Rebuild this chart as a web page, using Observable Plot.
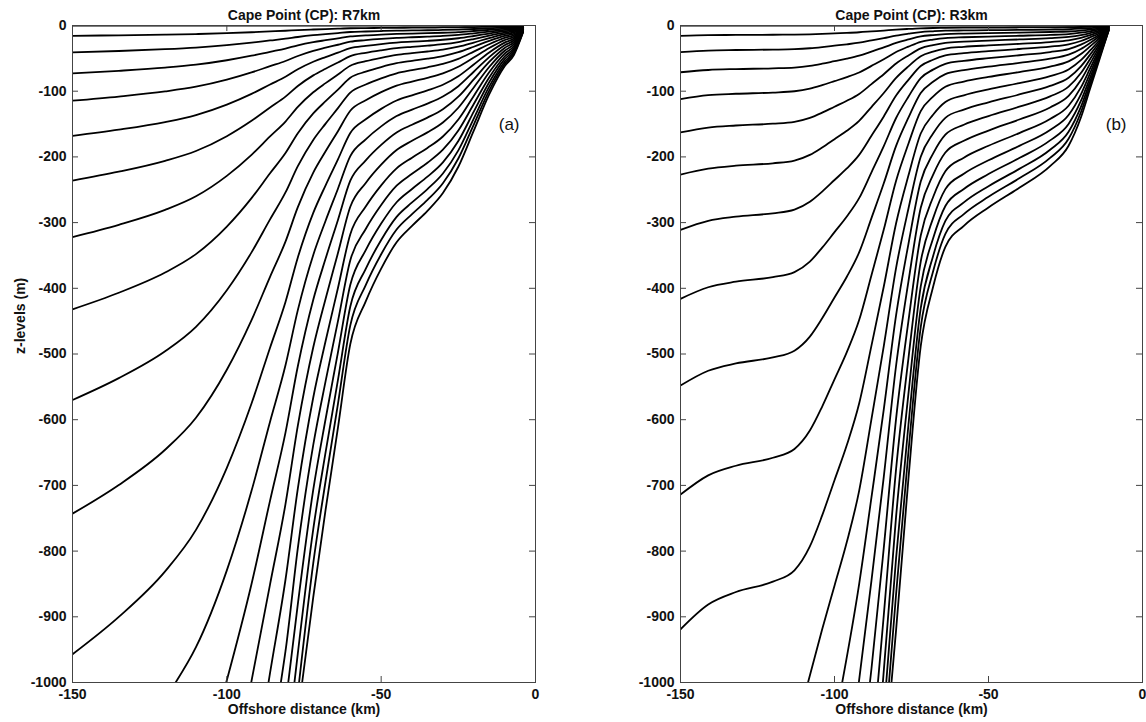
<!DOCTYPE html>
<html>
<head>
<meta charset="utf-8">
<script src="https://cdn.jsdelivr.net/npm/d3@7"></script>
<script src="https://cdn.jsdelivr.net/npm/@observablehq/plot@0.6"></script>
<style>
  html, body { margin: 0; padding: 0; background: #fff; }
  #wrap { position: relative; width: 1146px; height: 722px; overflow: hidden; }
  #pa, #pb { position: absolute; top: 0; }
  #pa { left: 0; }
  #pb { left: 600px; }
</style>
</head>
<body>
<div id="wrap"><div id="pa"></div><div id="pb"></div></div>
<script>
// ---------- data ----------
const titles = ["Cape Point (CP): R7km", "Cape Point (CP): R3km"];
const panelTags = ["(a)", "(b)"];
const xTicks = [-150, -100, -50, 0];
const yTicks = [-1000, -900, -800, -700, -600, -500, -400, -300, -200, -100, 0];

// Panel (a): offshore distance columns (km) and depth (m, positive down) of each level line
const xA = [-150, -135, -120, -110, -100, -92, -86, -81, -77, -72, -68, -64, -60, -55, -50, -45, -40, -35, -30, -25, -20, -15, -10, -7, -4];
const depthA = [
  [0,0,0,0,0,0,0,0,0,0,0,0,0,0,0,0,0,0,0,0,0,0,0,0,0],
  [15.7,14.9,13.9,13.0,11.7,10.3,9.0,8.0,7.0,6.1,5.4,4.9,4.2,3.9,3.7,3.5,3.3,3.2,3.0,2.8,2.5,2.0,1.5,1.3,0.4],
  [41,38.8,36.1,33.6,30.0,26.2,22.8,20.1,17.5,14.8,13.1,11.5,9.9,9.1,8.4,7.9,7.5,7.2,6.8,6.2,5.3,4.3,3.2,2.6,0.9],
  [73,69.0,64.1,59.6,52.9,46.0,40.0,35.1,30.2,25.4,22.4,19.5,16.6,15.0,13.9,12.9,12.3,11.7,11.0,10.0,8.4,6.7,4.9,4.0,1.3],
  [114.5,108.1,100.3,93.2,82.5,71.5,61.9,54.0,46.4,38.6,33.8,29.3,24.7,22.3,20.4,18.9,17.9,17.0,15.9,14.3,11.9,9.3,6.8,5.5,1.7],
  [168,158.5,146.9,136.3,120.4,104.1,89.8,78.1,66.7,55.2,48.1,41.4,34.5,31.0,28.2,26.0,24.6,23.3,21.7,19.4,16.0,12.2,8.7,7.0,2.2],
  [236,222.5,205.9,191.0,168.5,145.1,124.9,108.3,92.1,75.9,65.8,56.3,46.6,41.5,37.7,34.5,32.5,30.7,28.5,25.2,20.6,15.5,10.9,8.7,2.6],
  [322,303.4,280.7,260.0,228.9,196.9,168.9,146.2,123.9,101.6,87.7,74.6,61.3,54.4,49.1,44.8,42.1,39.6,36.7,32.2,25.9,19.2,13.2,10.5,3.1],
  [432,406.8,376.0,348.0,306.1,262.8,224.9,194.1,164.0,133.8,115.2,97.5,79.5,70.3,63.2,57.4,53.8,50.5,46.5,40.6,32.3,23.5,15.9,12.5,3.6],
  [570,536.7,495.8,458.6,402.9,345.3,295.1,254.1,214.1,174.1,149.3,125.8,102.1,89.8,80.4,72.8,68.0,63.6,58.4,50.7,39.8,28.5,18.8,14.6,4.1],
  [743,699.3,645.7,597.0,523.9,448.4,382.5,328.9,276.5,223.9,191.5,160.9,129.7,113.8,101.4,91.5,85.3,79.6,72.8,62.8,48.7,34.3,22.2,17.0,4.6],
  [957,900.1,830.8,767.7,673.2,575.4,490.4,420.9,353.1,285.2,243.2,203.7,163.5,142.8,126.9,114.2,106.2,98.8,90.2,77.3,59.4,41.0,26.0,19.7,5.1],
  [null,null,null,946.3,829.3,708.3,603.0,517.1,433.2,349.2,297.2,248.4,198.7,173.2,153.5,137.8,128.0,118.9,108.2,92.4,70.4,48.1,30.0,22.5,5.7],
  [null,null,null,null,null,850.1,723.1,619.7,518.6,417.4,354.8,295.9,236.2,205.4,181.8,162.9,151.1,140.2,127.4,108.4,82.1,55.4,34.1,25.4,6.2],
  [null,null,null,null,null,null,850.6,728.5,609.1,489.8,415.8,346.4,275.8,239.6,211.8,189.5,175.5,162.7,147.6,125.2,94.3,63.2,38.4,28.4,6.8],
  [null,null,null,null,null,null,985.5,843.6,704.8,566.2,480.3,399.6,317.6,275.6,243.3,217.5,201.2,186.4,168.9,143.0,107.2,71.3,42.9,31.5,7.3],
  [null,null,null,null,null,null,null,952.4,795.4,638.4,541.3,450.0,357.3,309.7,273.2,243.9,225.7,208.9,189.1,159.8,119.5,79.0,47.2,34.5,7.9],
  [null,null,null,null,null,null,null,null,880.8,706.6,598.9,497.5,394.7,342.0,301.5,269.0,248.8,230.1,208.3,175.8,131.1,86.4,51.3,37.4,8.4],
  [null,null,null,null,null,null,null,null,955.8,766.5,649.5,539.5,427.7,370.5,326.5,291.3,269.3,249.0,225.2,190.0,141.6,93.1,55.1,40.1,9.0],
  [null,null,null,null,null,null,null,null,null,818.3,693.3,575.8,456.4,395.2,348.2,310.6,287.1,265.5,240.1,202.5,150.8,99.0,58.6,42.5,9.5],
  [null,null,null,null,null,null,null,null,null,870,737,612,485,420,370,330,305,282,255,215,160,105,62,45,10]
];
// where each deep line meets the -1000 m bottom edge (km); null = leaves through the left edge
const bottomXA = [null,null,null,null,null,null,null,null,null,null,null,null,-116.6,-100.2,-92.1,-86.5,-82.5,-80.1,-78.1,-76.6,-75.6];

// Panel (b)
const xB = [-150, -141, -132, -120, -113, -108, -104, -100, -96, -92, -88, -84, -80, -76, -72, -68, -64, -58, -50, -40, -30, -24, -20, -17, -14, -11];
const depthB = [
  [0,0,0,0,0,0,0,0,0,0,0,0,0,0,0,0,0,0,0,0,0,0,0,0,0,0],
  [15.8,14.6,14.4,14.1,13.9,13.4,12.7,11.9,11.2,10.3,9.0,7.7,6.3,5.2,4.3,3.8,3.5,3.3,3.2,3.0,2.8,2.6,2.3,1.9,1.4,0.35],
  [40.6,38.1,37.3,36.7,36.0,34.6,32.8,30.7,28.6,26.2,22.7,19.2,15.4,12.5,10.0,8.8,7.9,7.5,7.1,6.7,6.2,5.7,4.9,4.1,2.9,0.7],
  [71.2,67.7,66.3,65.2,64.0,61.4,58.1,54.3,50.5,46.0,39.8,33.4,26.5,21.3,16.6,14.5,13.1,12.3,11.6,10.8,9.9,9.1,7.8,6.3,4.4,1.1],
  [111.9,106.0,103.9,102.1,100.1,96.0,90.7,84.7,78.6,71.5,61.5,51.4,40.4,32.1,24.8,21.4,19.1,17.9,16.8,15.6,14.3,13.0,11.0,8.8,6.0,1.4],
  [162.7,155.3,152.2,149.5,146.6,140.6,132.7,123.6,114.6,104.1,89.2,74.1,57.9,45.6,34.7,29.8,26.4,24.6,23.0,21.2,19.3,17.4,14.7,11.6,7.8,1.8],
  [227,218.0,213.4,209.7,205.6,197.0,185.7,173.0,160.2,145.1,124.1,102.7,79.7,62.2,46.8,39.8,35.1,32.5,30.3,27.9,25.2,22.6,18.8,14.6,9.6,2.2],
  [311,297.2,291.0,285.8,280.2,268.3,252.8,235.2,217.6,196.9,167.9,138.4,106.7,82.8,61.6,52.1,45.6,42.1,39.1,35.8,32.1,28.6,23.6,18.0,11.7,2.5],
  [416,398.4,390.0,383.0,375.3,359.3,338.2,314.5,290.7,262.8,223.5,183.6,140.8,108.5,80.0,67.2,58.4,53.8,49.7,45.3,40.4,35.8,29.1,22.0,13.9,2.9],
  [548,525.5,514.4,505.1,494.9,473.5,445.6,414.0,382.4,345.3,293.2,240.2,183.3,140.4,102.6,85.6,74.1,68.0,62.6,56.9,50.5,44.4,35.7,26.5,16.4,3.3],
  [714,684.7,670.1,657.9,644.5,616.5,580.0,538.5,497.1,448.4,380.1,310.6,236.2,180.0,130.4,108.3,93.2,85.3,78.3,70.8,62.5,54.6,43.5,31.8,19.2,3.7],
  [919,881.2,862.3,846.5,829.2,792.9,745.7,692.1,638.6,575.4,487.2,397.3,301.0,228.4,164.4,135.8,116.4,106.2,97.2,87.6,77.0,66.9,52.8,38.0,22.4,4.1],
  [null,null,null,null,null,null,919.0,852.7,786.3,708.3,599.1,487.9,368.8,278.9,199.8,164.5,140.5,128.0,116.9,105.0,92.0,79.6,62.3,44.3,25.6,4.6],
  [null,null,null,null,null,null,null,null,null,850.1,718.4,584.4,440.9,332.7,237.6,195.1,166.2,151.1,137.8,123.6,107.9,93.1,72.4,51.0,29.0,5.0],
  [null,null,null,null,null,null,null,null,null,null,845.1,686.9,517.5,389.8,277.4,227.3,193.3,175.5,159.9,143.1,124.7,107.3,83.0,58.0,32.6,5.4],
  [null,null,null,null,null,null,null,null,null,null,979.1,795.1,598.4,450.0,319.6,261.4,222.0,201.2,183.1,163.7,142.3,122.1,94.2,65.4,36.2,5.9],
  [null,null,null,null,null,null,null,null,null,null,null,897.6,674.9,507.0,359.4,293.6,249.1,225.7,205.2,183.2,159.0,136.3,104.8,72.4,39.7,6.3],
  [null,null,null,null,null,null,null,null,null,null,null,null,747.1,560.8,397.1,324.2,274.7,248.8,226.1,201.8,174.9,149.8,114.9,79.1,43.1,6.8],
  [null,null,null,null,null,null,null,null,null,null,null,null,810.5,608.1,430.3,351.1,297.5,269.3,244.6,218.2,189.1,161.8,123.9,85.1,46.3,7.2],
  [null,null,null,null,null,null,null,null,null,null,null,null,865.3,649.1,459.2,374.5,317.2,287.1,260.8,232.6,201.6,172.4,132.0,90.6,49.1,7.6],
  [null,null,null,null,null,null,null,null,null,null,null,null,920,690,488,398,337,305,277,247,214,183,140,96,52,8.0]
];
const bottomXB = [null,null,null,null,null,null,null,null,null,null,null,null,-108.6,-97.5,-92.1,-88.5,-85.9,-84.3,-83.2,-82.3,-81.5];

// ---------- build ----------
function rowsFor(xs, depths, bottoms) {
  const rows = [];
  depths.forEach((arr, i) => {
    const b = bottoms[i];
    if (b != null) rows.push({level: i, x: b, z: -1000});
    arr.forEach((d, j) => {
      if (d != null && (b == null || xs[j] > b)) rows.push({level: i, x: xs[j], z: -d});
    });
  });
  return rows;
}

const FONT = "'Liberation Sans', Arial, Helvetica, sans-serif";

function panel(idx, rows, opts) {
  const W = opts.width - opts.marginLeft - opts.marginRight;
  const H = 722 - 25 - 40;
  const tickLen = 6;
  return Plot.plot({
    width: opts.width,
    height: 722,
    marginTop: 25,
    marginBottom: 40,
    marginLeft: opts.marginLeft,
    marginRight: opts.marginRight,
    x: {domain: [-150, 0]},
    y: {domain: [-1000, 0]},
    style: {fontFamily: FONT, fontSize: "14px", background: "transparent", color: "#111"},
    marks: [
      Plot.line(rows, {x: "x", y: "z", z: "level", stroke: "#000", strokeWidth: 1.8, curve: "monotone-x", clip: true}),
      Plot.frame({stroke: "#444", strokeWidth: 1}),
      Plot.tickY(yTicks, {y: d => d, insetRight: W - tickLen, stroke: "#444"}),
      Plot.tickY(yTicks, {y: d => d, insetLeft: W - tickLen, stroke: "#444"}),
      Plot.tickX(xTicks, {x: d => d, insetTop: H - tickLen, stroke: "#444"}),
      Plot.tickX(xTicks, {x: d => d, insetBottom: H - tickLen, stroke: "#444"}),
      Plot.axisY({ticks: yTicks, tickSize: 0, tickPadding: 6, tickFormat: d => String(d), label: null, fontWeight: "bold", fontSize: 14}),
      Plot.axisX({ticks: xTicks, tickSize: 0, tickPadding: 7, tickFormat: d => String(d), label: null, fontWeight: "bold", fontSize: 14}),
      Plot.text([titles[idx]], {frameAnchor: "top", dy: -6, lineAnchor: "bottom", fontWeight: "bold", fontSize: 14, fill: "#111"}),
      Plot.text(["Offshore distance (km)"], {frameAnchor: "bottom", dy: 22, lineAnchor: "top", fontWeight: "bold", fontSize: 14, fill: "#111"}),
      Plot.text([panelTags[idx]], {frameAnchor: "top-right", dx: -16, dy: 92, lineAnchor: "top", textAnchor: "end", fontSize: 17, fill: "#111"}),
      ...(opts.yLabel ? [Plot.text([opts.yLabel], {frameAnchor: "left", dx: -52, rotate: -90, fontWeight: "bold", fontSize: 14, fill: "#111"})] : [])
    ]
  });
}

document.getElementById("pa").appendChild(
  panel(0, rowsFor(xA, depthA, bottomXA), {width: 560, marginLeft: 72, marginRight: 25, yLabel: "z-levels (m)"})
);
document.getElementById("pb").appendChild(
  panel(1, rowsFor(xB, depthB, bottomXB), {width: 546, marginLeft: 80, marginRight: 4})
);
</script>
</body>
</html>
